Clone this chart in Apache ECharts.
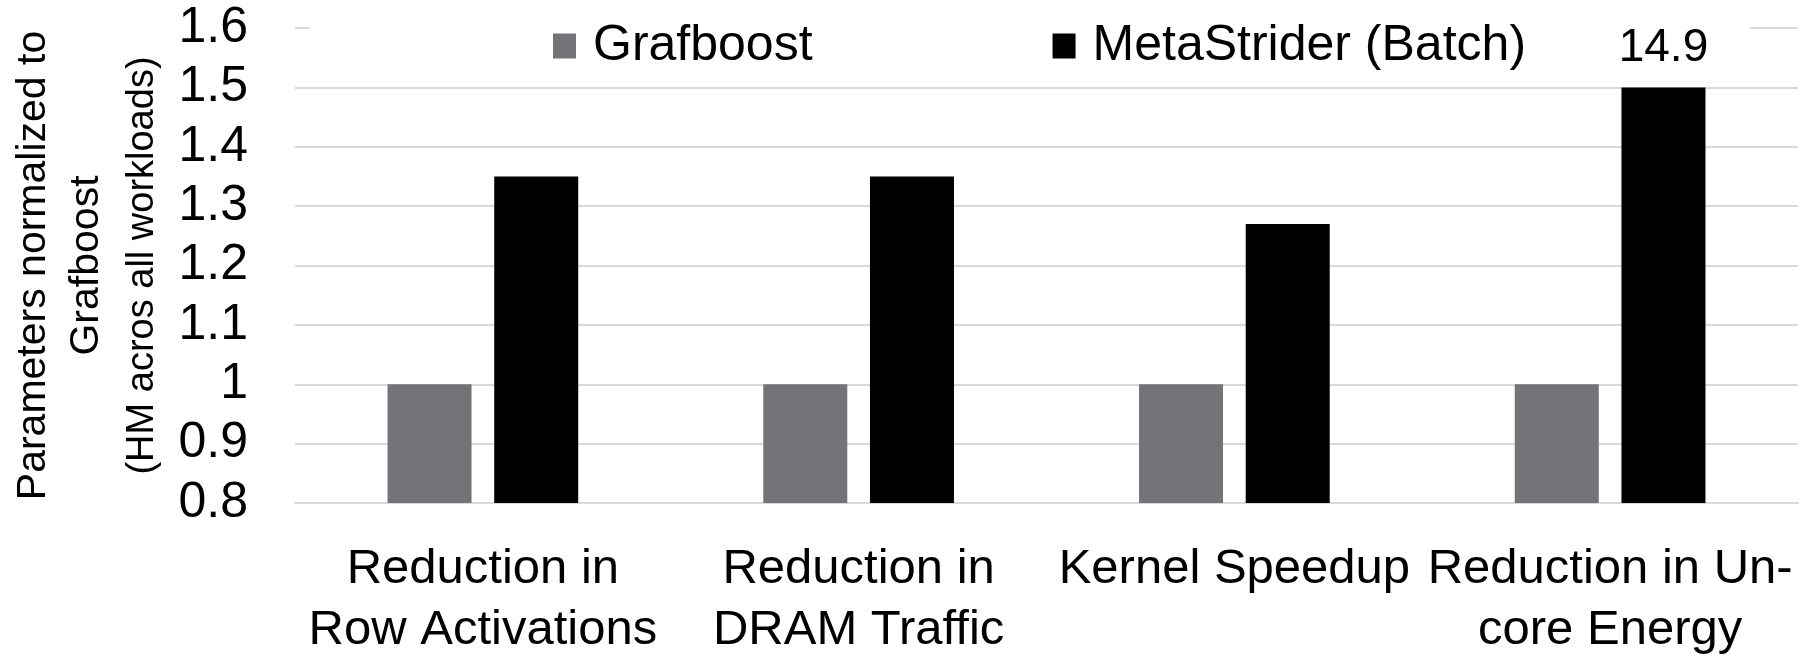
<!DOCTYPE html>
<html>
<head>
<meta charset="utf-8">
<script src="https://cdn.jsdelivr.net/npm/echarts@6/dist/echarts.min.js"></script>
<style>
  html, body { margin: 0; padding: 0; background: #fff; }
  #chart { width: 1814px; height: 661px; }
</style>
</head>
<body>
<div id="chart"></div>
<script>
const categories = [
  'Reduction in\nRow Activations',
  'Reduction in\nDRAM Traffic',
  'Kernel Speedup',
  'Reduction in Un-\ncore Energy'
];
const grafboost = [1, 1, 1, 1];
const metaStrider = [1.35, 1.35, 1.27, 14.9];
const yTicks = { min: 0.8, max: 1.6, step: 0.1 };
// bars taller than this are cut off and show their real value on top
const barCap = 1.5;

const font = 'Liberation Sans, Arial, sans-serif';

const chart = echarts.init(document.getElementById('chart'));

chart.setOption({
  animation: false,
  textStyle: { fontFamily: font, color: '#000' },
  grid: { left: 295, right: 16, top: 28, bottom: 154 },
  legend: {
    left: 310,
    top: 15,
    padding: [6, 224, 6, 243],
    backgroundColor: '#fff',
    icon: 'rect',
    itemWidth: 23,
    itemHeight: 25,
    itemGap: 240,
    textStyle: { fontSize: 50, color: '#000', padding: [0, 0, 0, 12] },
    data: ['Grafboost', 'MetaStrider (Batch)']
  },
  xAxis: {
    type: 'category',
    data: categories,
    axisTick: { show: false },
    axisLine: { lineStyle: { color: '#d9d9d9', width: 2 } },
    axisLabel: {
      fontSize: 49,
      lineHeight: 61,
      margin: 36,
      color: '#000',
      interval: 0,
      verticalAlign: 'top'
    }
  },
  yAxis: {
    type: 'value',
    min: yTicks.min,
    max: yTicks.max,
    interval: yTicks.step,
    name: '{a|Parameters normalized to}\n{a|Grafboost}\n{b|(HM acros all workloads)}',
    nameLocation: 'middle',
    nameGap: 122,
    nameTextStyle: {
      rich: {
        a: { fontSize: 41, lineHeight: 53, color: '#000', fontFamily: font },
        b: { fontSize: 38, lineHeight: 60, color: '#000', fontFamily: font }
      }
    },
    axisLine: { show: false },
    axisTick: { show: false },
    axisLabel: { fontSize: 50, margin: 47, color: '#000' },
    splitLine: { lineStyle: { color: '#d9d9d9', width: 2 } }
  },
  series: [
    {
      name: 'Grafboost',
      type: 'bar',
      data: grafboost,
      barWidth: 84,
      barGap: '27%',
      itemStyle: { color: '#747378' }
    },
    {
      name: 'MetaStrider (Batch)',
      type: 'bar',
      z: 5,
      data: metaStrider.map(v => ({
        value: Math.min(v, barCap),
        label: { show: v > barCap, formatter: String(v) }
      })),
      barWidth: 84,
      itemStyle: { color: '#000' },
      label: {
        position: 'top',
        distance: 16,
        fontSize: 46,
        color: '#000'
      }
    }
  ]
});
</script>
</body>
</html>
